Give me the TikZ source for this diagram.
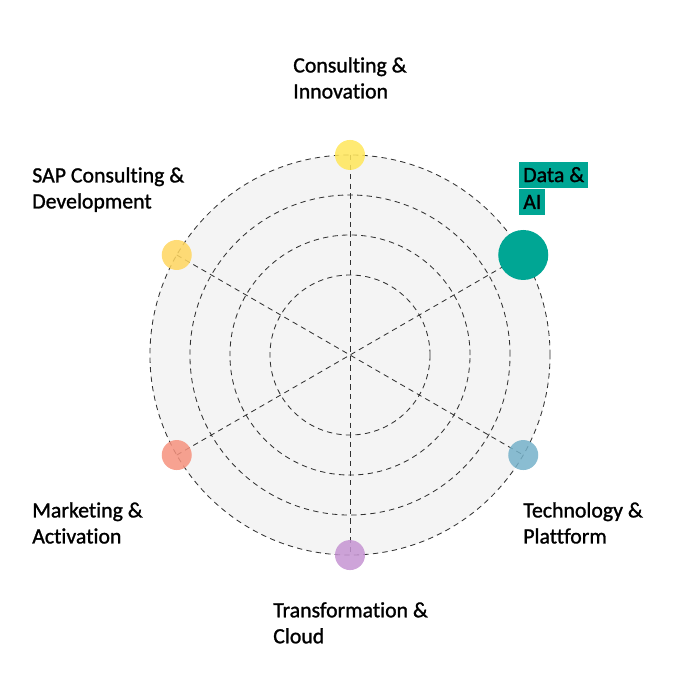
\documentclass[tikz,border=0pt]{standalone}
\usepackage{fontspec}
\setmainfont{Carlito}[Ligatures={NoCommon,NoRare}, FakeBold=1.2]
\usepackage{xcolor}
\usetikzlibrary{positioning}
\definecolor{ringgrey}{RGB}{244,244,244}
\definecolor{ringline}{RGB}{50,50,50}
\definecolor{ciyellow}{RGB}{255,230,90}
\definecolor{sapgold}{RGB}{255,214,95}
\definecolor{masalmon}{RGB}{246,146,126}
\definecolor{tpblue}{RGB}{118,178,202}
\definecolor{tcviolet}{RGB}{198,148,210}
\definecolor{daiteal}{RGB}{0,166,148}
\tikzset{
  radar/.style={ font=\fontsize{15.5}{18.5}\selectfont },
  ring/.style={
    draw=ringline,
    line width=0.6pt,
    dash pattern=on 3.8pt off 3pt
  },
  spoke/.style={
    draw=ringline,
    line width=0.6pt,
    dash pattern=on 3.8pt off 3pt
  },
  dot/.style={
    circle,
    fill=#1,
    fill opacity=0.85,
    minimum size=0.75cm,
    inner sep=0pt
  },
  area/.style={
    anchor=north west,
    align=left,
    inner sep=0pt,
    text=black
  },
  highlight/.style={
    anchor=base west,
    fill=daiteal,
    text=black,
    inner xsep=0.1cm,
    inner ysep=0pt,
    text height=0.5cm,
    text depth=0.16cm
  }
}

\begin{document}
\begin{tikzpicture}[radar, x=0.025cm, y=-0.025cm]
  \useasboundingbox (0,0) rectangle (700,700);
  \coordinate (c) at (350,355);

  \fill[ringgrey] (c) circle[radius=5cm];
  \foreach \r in {5,4,3,2} {
    \draw[ring] (c) circle[radius=\r cm];
  }

  \coordinate (pci) at ([shift={(90:5cm)}]c);
  \coordinate (psap) at ([shift={(150:5cm)}]c);
  \coordinate (pma) at ([shift={(210:5cm)}]c);
  \coordinate (ptc) at ([shift={(270:5cm)}]c);
  \coordinate (ptp) at ([shift={(330:5cm)}]c);
  \coordinate (pdai) at ([shift={(30:5cm)}]c);

  \draw[spoke] (pci) -- (ptc);
  \draw[spoke] (psap) -- (ptp);
  \draw[spoke] (pma) -- (pdai);

  \node[dot=ciyellow] (ci) at (pci) {};
  \node[dot=sapgold] (sap) at (psap) {};
  \node[dot=masalmon] (ma) at (pma) {};
  \node[dot=tcviolet] (tc) at (ptc) {};
  \node[dot=tpblue] (tp) at (ptp) {};
  \node[dot=daiteal, fill opacity=1, minimum size=1.25cm] (dai) at (pdai) {};

  \node[area] (cilabel) at (293,57) {Consulting \&\\Innovation};
  \node[area] (saplabel) at (32,167) {SAP Consulting \&\\Development};
  \node[area] (malabel) at (32,502) {Marketing \&\\Activation};
  \node[area] (tplabel) at (523,502) {Technology \&\\Plattform};
  \node[area] (tclabel) at (273,602) {Transformation \&\\Cloud};
  \node[highlight] (dailabel) at (519,182) {Data \&};
  \node[highlight, anchor=north west] (dailabelb) at (dailabel.south west) {AI};
\end{tikzpicture}
\end{document}
